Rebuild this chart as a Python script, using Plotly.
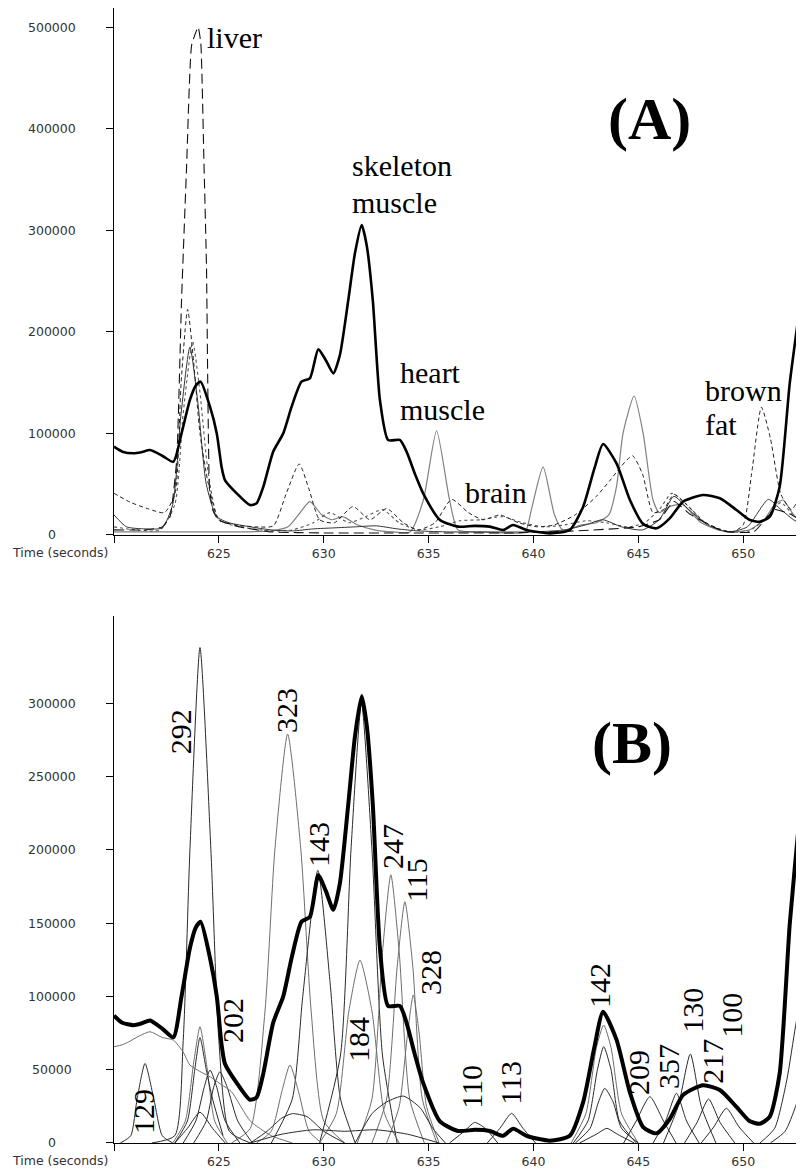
import plotly.graph_objects as go

# ---------------- shared thick trace (total signal) ----------------
T_TOTAL = [620.0, 620.4, 620.92, 621.3, 621.72, 622.3, 622.83, 623.22, 623.62, 623.9, 624.13, 624.58,
           624.9, 625.13, 625.29, 625.85, 626.48, 626.8, 627.12, 627.59, 628.07, 628.47, 628.94,
           629.34, 629.74, 630.1, 630.46, 630.77, 631.17, 631.49, 631.81, 632.05, 632.34, 632.68,
           633.07, 633.63, 633.95, 634.35, 634.74, 635.54, 636.41, 637.2, 637.92, 638.55, 639.03,
           639.67, 640.78, 641.73, 642.37, 642.9, 643.32, 643.96, 644.6, 645.23, 645.87, 646.5,
           647.14, 648.09, 648.89, 649.68, 650.3, 650.79, 651.27, 651.74, 652.22, 652.7, 652.9]
V_TOTAL = [86900, 82000, 80400, 81500, 83600, 78000, 72100, 100000, 133000, 147000, 150900, 126000,
           100000, 67000, 54100, 41000, 29500, 31200, 47500, 82000, 100000, 126300, 150900,
           154200, 182700, 172000, 159100, 177100, 231000, 277500, 305000, 285000, 231000, 132800,
           93500, 93500, 82000, 60000, 41000, 14800, 8200, 9000, 8200, 4900, 9800,
           4900, 1600, 4900, 27900, 65000, 89500, 70500, 34400, 10800, 6600, 16400,
           32800, 39400, 36100, 24600, 15000, 13100, 18000, 47500, 149300, 224700, 256000]

# ---------------- panel A thin traces ----------------
A_LIVER_T = [620.0, 621.5, 622.3, 622.67, 622.99, 623.22, 623.46, 623.7, 624.01, 624.14, 624.29,
             624.41, 624.47, 624.55, 624.7, 624.97, 626.0, 627.5, 630.0, 633.0, 636.0, 639.0,
             642.0, 645.0, 646.0, 646.7, 647.5, 649.0, 650.5, 651.5, 652.3, 652.9]
A_LIVER_V = [5000, 5000, 8000, 18000, 73800, 231000, 362000, 482000, 500000, 484000, 366000,
             264000, 150000, 47000, 25000, 14800, 8000, 3000, 2000, 2000, 2000, 2000,
             4000, 8000, 15000, 33000, 20000, 4000, 3000, 25000, 20000, 12000]

A_DASH_T = [620.0, 620.8, 621.6, 622.4, 622.9, 623.2, 623.51, 623.8, 624.1, 624.5, 625.0, 625.8,
            626.8, 627.6, 628.2, 628.83, 629.3, 629.8, 630.5, 631.4, 632.2, 633.0, 633.8, 634.5,
            635.3, 636.1, 636.9, 637.6, 638.4, 639.3, 640.2, 641.0, 642.0, 643.0, 643.7, 644.2,
            644.72, 645.2, 645.7, 646.2, 646.7, 647.3, 648.0, 648.8, 649.5, 650.0, 650.4, 650.87,
            651.3, 651.8, 652.3, 652.9]
A_DASH_V = [41000, 32000, 26000, 22000, 40000, 150000, 222000, 170000, 100000, 50000, 15000, 10000,
            8000, 9000, 40000, 69900, 45000, 15000, 12000, 28000, 15000, 26000, 12000, 5000,
            12000, 35000, 22000, 15000, 19700, 12000, 8000, 10000, 20000, 38000, 55000, 68000,
            78000, 60000, 22000, 25000, 40000, 30000, 15000, 6000, 3000, 10000, 60000, 125700,
            95000, 40000, 25000, 46000]

A_DOT_T = [620.0, 621.0, 622.2, 622.9, 623.3, 623.75, 624.1, 624.5, 625.0, 626.0, 627.5, 628.5,
           629.5, 630.3, 631.2, 632.0, 632.8, 633.6, 634.5, 635.5, 636.5, 637.5, 638.5, 639.5,
           640.5, 641.5, 642.5, 643.5, 644.5, 645.3, 646.0, 646.6, 647.3, 648.2, 649.2, 650.2,
           651.0, 651.8, 652.4, 652.9]
A_DOT_V = [8000, 5000, 5000, 30000, 120000, 190000, 140000, 60000, 15000, 8000, 4000, 5000,
           12000, 22000, 12000, 18000, 25000, 12000, 5000, 8000, 14000, 15000, 18000, 12000,
           8000, 10000, 14000, 12000, 8000, 12000, 25000, 41000, 30000, 12000, 4000, 3000,
           15000, 32000, 20000, 25000]

A_BLACK_T = [620.0, 620.6, 621.5, 622.3, 622.8, 623.2, 623.62, 624.0, 624.4, 624.9, 625.5, 626.5,
             627.5, 628.5, 629.5, 630.5, 631.5, 632.5, 633.5, 634.5, 636.0, 638.0, 640.0, 641.5,
             642.5, 643.3, 644.2, 645.2, 646.0, 646.7, 647.4, 648.3, 649.3, 650.2, 651.2, 651.8,
             652.4, 652.9]
A_BLACK_V = [19700, 8000, 6000, 7000, 30000, 120000, 185000, 130000, 50000, 18000, 12000, 8000,
             5000, 4000, 6000, 7000, 8000, 9000, 6000, 4000, 3000, 3000, 3000, 5000,
             10000, 15000, 8000, 5000, 15000, 38000, 25000, 10000, 3000, 8000, 35000, 25000,
             15000, 10000]

A_GRAY_T = [620.0, 621.5, 623.0, 624.5, 626.0, 627.5, 628.3, 628.8, 629.34, 629.9, 630.4, 630.9,
            631.6, 632.4, 633.3, 634.11, 634.75, 635.38, 636.0, 636.4, 637.5, 638.5, 639.6, 639.9,
            640.46, 641.0, 641.4, 642.3, 643.0, 643.6, 643.96, 644.27, 644.8, 645.23, 645.7,
            646.0, 646.5, 647.1, 648.0, 648.8, 649.5, 650.3, 651.0, 651.5, 651.9, 652.4, 652.9]
A_GRAY_V = [3000, 3000, 3000, 3000, 3000, 4000, 8000, 20000, 32800, 20000, 15000, 18000,
            10000, 5000, 3000, 3000, 34400, 102600, 34400, 5000, 3000, 2000, 3000, 25000,
            67000, 20000, 5000, 10000, 12000, 20000, 47500, 100000, 136800, 100000, 34400,
            22000, 28000, 30000, 12000, 5000, 3000, 5000, 15000, 30000, 34400, 20000, 10000]

# ---------------- panel B thin traces (fragment ions) ----------------
B292_T = [621.8, 622.9, 623.3, 623.62, 624.1, 624.62, 625.0, 625.5, 626.5]
B292_V = [0, 5000, 70000, 200000, 338000, 200000, 70000, 8000, 0]
B323_T = [625.6, 626.5, 627.2, 627.67, 628.28, 628.91, 629.4, 630.0, 631.0]
B323_V = [0, 10000, 90000, 200000, 279000, 200000, 90000, 15000, 0]
B143_T = [627.5, 628.5, 629.0, 629.72, 630.3, 630.8, 631.5]
B143_V = [0, 30000, 100000, 186000, 110000, 30000, 0]
BMAIN_T = [629.8, 630.8, 631.3, 631.8, 632.3, 632.8, 633.5]
BMAIN_V = [0, 60000, 200000, 300000, 200000, 60000, 0]
B184_T = [629.8, 630.6, 631.2, 631.73, 632.3, 632.9, 633.6]
B184_V = [0, 20000, 90000, 124800, 90000, 20000, 0]
B247_T = [631.6, 632.3, 632.8, 633.2, 633.6, 634.1, 634.8]
B247_V = [0, 30000, 130000, 183000, 130000, 30000, 0]
B115_T = [632.3, 633.0, 633.5, 633.87, 634.25, 634.7, 635.4]
B115_V = [0, 30000, 120000, 164600, 120000, 30000, 0]
B328_T = [633.0, 633.6, 634.0, 634.27, 634.55, 634.9, 635.5]
B328_V = [0, 25000, 75000, 101000, 75000, 25000, 0]
B129_T = [620.3, 620.8, 621.1, 621.48, 621.9, 622.3, 622.8]
B129_V = [0, 5000, 30000, 54300, 30000, 5000, 0]
B80_T = [622.8, 623.4, 623.8, 624.1, 624.4, 624.8, 625.4]
B80_V = [0, 15000, 55000, 79300, 55000, 15000, 0]
B72_T = [622.9, 623.5, 623.85, 624.1, 624.4, 624.7, 625.2]
B72_V = [0, 15000, 50000, 72000, 50000, 30000, 5000]
B202A_T = [623.3, 623.9, 624.3, 624.58, 624.9, 625.3, 626.0]
B202A_V = [0, 15000, 38000, 49800, 38000, 15000, 0]
B202B_T = [623.8, 624.4, 624.75, 625.05, 625.4, 625.9, 626.6]
B202B_V = [0, 15000, 38000, 48600, 38000, 15000, 0]
B20_T = [622.9, 623.5, 624.1, 624.7, 625.3]
B20_V = [0, 10000, 21000, 10000, 0]
BLONG_T = [620.0, 620.4, 620.7, 621.2, 621.72, 622.3, 622.83, 623.3, 623.62, 624.2, 624.6, 625.1,
           625.6, 626.5, 627.5, 628.5]
BLONG_V = [65700, 67000, 69000, 73000, 75900, 72000, 70200, 62000, 53200, 48000, 45000, 40000,
           35000, 15000, 5000, 0]
B53_T = [626.8, 627.5, 628.0, 628.39, 628.8, 629.3, 629.9]
B53_V = [0, 8000, 35000, 53200, 35000, 8000, 0]
BBROAD_T = [626.5, 627.3, 628.0, 628.5, 629.2, 630.0, 631.0]
BBROAD_V = [0, 8000, 17000, 20000, 18000, 8000, 0]
BLOW_T = [626.5, 628.0, 629.5, 631.0, 632.5, 634.0, 635.5]
BLOW_V = [0, 6000, 9000, 8000, 9000, 6000, 0]
BPLAT_T = [631.5, 632.3, 633.0, 633.8, 634.6, 635.2, 635.8]
BPLAT_V = [0, 20000, 28000, 32000, 24000, 10000, 0]
B110_T = [636.0, 636.7, 637.2, 637.7, 638.3]
B110_V = [0, 8000, 14000, 10000, 0]
B113_T = [637.8, 638.4, 638.96, 639.5, 640.1]
B113_V = [0, 10000, 20200, 10000, 0]
B142A_T = [641.8, 642.5, 643.0, 643.35, 643.7, 644.2, 645.0]
B142A_V = [0, 20000, 65000, 80500, 65000, 20000, 0]
B142B_T = [641.9, 642.6, 643.05, 643.35, 643.7, 644.1, 644.9]
B142B_V = [0, 15000, 50000, 65700, 50000, 15000, 0]
B142C_T = [642.0, 642.7, 643.1, 643.4, 643.8, 644.2, 645.0]
B142C_V = [0, 10000, 28000, 37300, 28000, 10000, 0]
B142D_T = [642.2, 643.0, 643.5, 644.0, 644.8]
B142D_V = [0, 6000, 10000, 6000, 0]
B209_T = [644.3, 644.9, 645.55, 646.2, 646.8]
B209_V = [0, 15000, 31600, 15000, 0]
B357_T = [645.7, 646.3, 646.82, 647.3, 647.9]
B357_V = [0, 15000, 33900, 15000, 0]
B130_T = [646.2, 646.9, 647.48, 648.0, 648.7]
B130_V = [0, 25000, 60700, 25000, 0]
B217_T = [647.2, 647.8, 648.35, 648.9, 649.6]
B217_V = [0, 14000, 30000, 14000, 0]
B100_T = [648.0, 648.6, 649.2, 649.8, 650.5]
B100_V = [0, 11000, 23700, 11000, 0]
BR1_T = [650.8, 651.5, 652.08, 652.5, 652.9]
BR1_V = [0, 10000, 43000, 80000, 111000]
BR2_T = [651.3, 652.0, 652.5, 652.9]
BR2_V = [0, 8000, 25000, 45000]

# ---------------- labels ----------------
TICKS_A = [0, 100000, 200000, 300000, 400000, 500000]
TICKS_B = [0, 50000, 100000, 150000, 200000, 250000, 300000]
X_TICKS = [620, 625, 630, 635, 640, 645, 650]
X_TICKTEXT = ["", "625", "630", "635", "640", "645", "650"]
X_TITLE = "Time (seconds)"

TISSUE_LABELS = ["liver", "skeleton", "muscle", "heart", "muscle", "brain", "brown", "fat"]
TISSUE_X = [624.34, 631.25, 631.25, 633.54, 633.54, 636.64, 648.08, 648.08]
TISSUE_Y = [489200, 363200, 326800, 160400, 124000, 42300, 142700, 108300]

ION_LABELS = ["292", "323", "143", "247", "115", "328", "184", "202", "129", "110", "113",
              "142", "209", "357", "130", "217", "100"]
ION_X = [623.15, 628.20, 629.72, 633.25, 634.40, 635.06, 631.63, 625.62, 621.38, 637.06, 638.87,
         643.17, 644.98, 646.41, 647.55, 648.50, 649.41]
ION_Y = [280300, 295300, 203900, 202600, 179400, 116600, 70900, 83900, 21800, 38200, 40900,
         107800, 48400, 52500, 90700, 55900, 87300]

fig = go.Figure()


def add(t, v, xa, ya, color, width, dash="solid", smoothing=0.6):
    fig.add_trace(go.Scatter(
        x=t, y=v, xaxis=xa, yaxis=ya, mode="lines",
        line=dict(color=color, width=width, dash=dash, shape="spline", smoothing=smoothing),
        hoverinfo="skip", showlegend=False))


# Panel A
add(A_GRAY_T, A_GRAY_V, "x", "y", "#808080", 1.2)
add(A_DOT_T, A_DOT_V, "x", "y", "#555555", 1.1, "dot")
add(A_BLACK_T, A_BLACK_V, "x", "y", "#333333", 1.0)
add(A_DASH_T, A_DASH_V, "x", "y", "#222222", 1.0, "4px,3px")
add(A_LIVER_T, A_LIVER_V, "x", "y", "#111111", 1.1, "10px,5px", 0.4)
add(T_TOTAL, V_TOTAL, "x", "y", "#000000", 2.6)

# Panel B
gray, dark = "#6e6e6e", "#2a2a2a"
thin_b = [
    (B292_T, B292_V, dark), (B323_T, B323_V, gray), (B143_T, B143_V, dark),
    (BMAIN_T, BMAIN_V, dark), (B184_T, B184_V, gray), (B247_T, B247_V, gray),
    (B115_T, B115_V, gray), (B328_T, B328_V, gray), (B129_T, B129_V, dark),
    (B80_T, B80_V, gray), (B72_T, B72_V, dark), (B202A_T, B202A_V, dark),
    (B202B_T, B202B_V, dark), (B20_T, B20_V, dark), (BLONG_T, BLONG_V, gray),
    (B53_T, B53_V, gray), (BBROAD_T, BBROAD_V, dark), (BLOW_T, BLOW_V, dark),
    (BPLAT_T, BPLAT_V, dark), (B110_T, B110_V, dark), (B113_T, B113_V, dark),
    (B142A_T, B142A_V, gray), (B142B_T, B142B_V, dark), (B142C_T, B142C_V, dark),
    (B142D_T, B142D_V, dark), (B209_T, B209_V, dark), (B357_T, B357_V, dark),
    (B130_T, B130_V, dark), (B217_T, B217_V, dark), (B100_T, B100_V, dark),
    (BR1_T, BR1_V, dark), (BR2_T, BR2_V, dark),
]
for t, v, c in thin_b:
    add(t, v, "x2", "y2", c, 1.0)
add(T_TOTAL, V_TOTAL, "x2", "y2", "#000000", 4.0)

TOP_DOM = [0.5357, 1.0]
BOT_DOM = [0.0, 0.4643]
tickfont = dict(family="DejaVu Sans", size=12.5, color="#333333")
axis_common = dict(showline=True, linecolor="black", linewidth=1, ticks="outside", ticklen=7,
                   tickcolor="black", showgrid=False, zeroline=False, automargin=False)
xcommon = dict(axis_common, range=[620, 652.9], tickvals=X_TICKS, ticktext=X_TICKTEXT,
               tickfont=tickfont)

# the page body keeps its default 8px margin, so the figure is 8px smaller than the window
fig.update_layout(
    width=796, height=1163,
    margin=dict(l=106, r=0, t=0, b=28, autoexpand=False),
    paper_bgcolor="white", plot_bgcolor="white",
    xaxis=dict(xcommon, domain=[0, 1], anchor="y"),
    yaxis=dict(axis_common, domain=TOP_DOM, range=[0, 518700], tickvals=TICKS_A,
               showticklabels=False, anchor="x"),
    xaxis2=dict(xcommon, domain=[0, 1], anchor="y2"),
    yaxis2=dict(axis_common, domain=BOT_DOM, range=[0, 359500], tickvals=TICKS_B,
                showticklabels=False, anchor="x2"),
)

ann = []
lab_x = (52 - 114) / 690.0
for yref, ticks in [("y", TICKS_A), ("y2", TICKS_B)]:
    for v in ticks:
        ann.append(dict(x=lab_x, xref="paper", y=v, yref=yref, text=str(v), showarrow=False,
                        xanchor="center", yanchor="middle", font=tickfont))
    ann.append(dict(x=-4 / 690.0, xref="paper", y=0, yref=yref, text=X_TITLE, showarrow=False,
                    xanchor="right", yanchor="middle", yshift=-18, font=tickfont))
serif = "Liberation Serif, Times New Roman, serif"
for txt, x, y in zip(TISSUE_LABELS, TISSUE_X, TISSUE_Y):
    ann.append(dict(x=x, y=y, xref="x", yref="y", text=txt, showarrow=False,
                    xanchor="left", yanchor="middle",
                    font=dict(family=serif, size=30, color="black")))
for txt, x, y in zip(ION_LABELS, ION_X, ION_Y):
    ann.append(dict(x=x, y=y, xref="x2", yref="y2", text=txt, showarrow=False, textangle=-90,
                    xanchor="center", yanchor="middle",
                    font=dict(family=serif, size=30, color="black")))
ann.append(dict(x=645.55, y=409400, xref="x", yref="y", text="<b>(A)</b>", showarrow=False,
                xanchor="center", yanchor="middle", font=dict(family=serif, size=60, color="black")))
ann.append(dict(x=644.72, y=272600, xref="x2", yref="y2", text="<b>(B)</b>", showarrow=False,
                xanchor="center", yanchor="middle", font=dict(family=serif, size=60, color="black")))
fig.update_layout(annotations=ann)

fig.write_html("out.html")
